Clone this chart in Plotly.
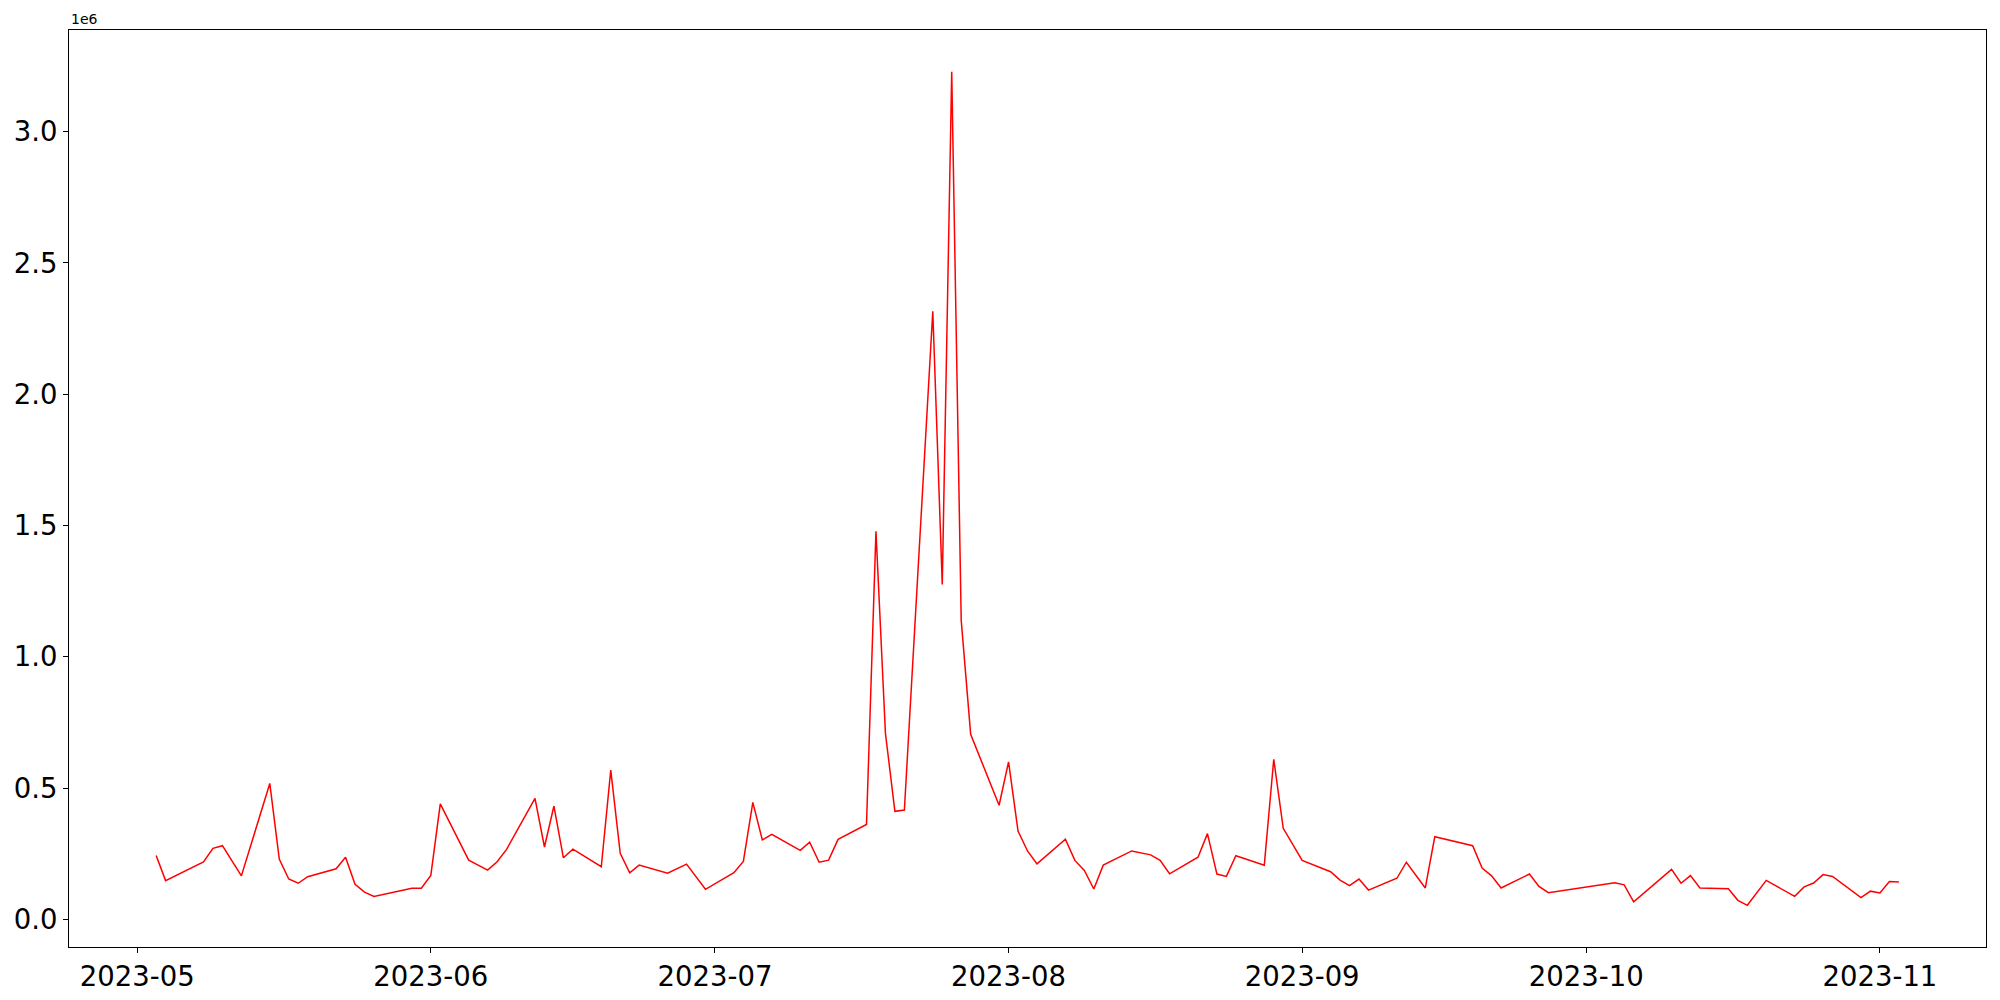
import plotly.graph_objects as go
import pandas as pd

dates = [
    "2023-05-03", "2023-05-04", "2023-05-08", "2023-05-09", "2023-05-10", "2023-05-11", "2023-05-12",
    "2023-05-15", "2023-05-16", "2023-05-17", "2023-05-18", "2023-05-19", "2023-05-22", "2023-05-23",
    "2023-05-24", "2023-05-25", "2023-05-26", "2023-05-30", "2023-05-31", "2023-06-01", "2023-06-02",
    "2023-06-05", "2023-06-07", "2023-06-08", "2023-06-09", "2023-06-12", "2023-06-13", "2023-06-14",
    "2023-06-15", "2023-06-16", "2023-06-19", "2023-06-20", "2023-06-21", "2023-06-22", "2023-06-23",
    "2023-06-26", "2023-06-28", "2023-06-30", "2023-07-03", "2023-07-04", "2023-07-05", "2023-07-06",
    "2023-07-07", "2023-07-10", "2023-07-11", "2023-07-12", "2023-07-13", "2023-07-14", "2023-07-17",
    "2023-07-18", "2023-07-19", "2023-07-20", "2023-07-21", "2023-07-24", "2023-07-25", "2023-07-26",
    "2023-07-27", "2023-07-28", "2023-07-31", "2023-08-01", "2023-08-02", "2023-08-03", "2023-08-04",
    "2023-08-07", "2023-08-08", "2023-08-09", "2023-08-10", "2023-08-11", "2023-08-14", "2023-08-16",
    "2023-08-17", "2023-08-18", "2023-08-21", "2023-08-22", "2023-08-23", "2023-08-24", "2023-08-25",
    "2023-08-28", "2023-08-29", "2023-08-30", "2023-09-01", "2023-09-04", "2023-09-05", "2023-09-06",
    "2023-09-07", "2023-09-08", "2023-09-11", "2023-09-12", "2023-09-14", "2023-09-15", "2023-09-19",
    "2023-09-20", "2023-09-21", "2023-09-22", "2023-09-25", "2023-09-26", "2023-09-27", "2023-10-04",
    "2023-10-05", "2023-10-06", "2023-10-10", "2023-10-11", "2023-10-12", "2023-10-13", "2023-10-16",
    "2023-10-17", "2023-10-18", "2023-10-20", "2023-10-23", "2023-10-24", "2023-10-25", "2023-10-26",
    "2023-10-27", "2023-10-30", "2023-10-31", "2023-11-01", "2023-11-02", "2023-11-03",
]

values = [
    244000, 148000, 219000, 271000, 281000, 226000, 166000,
    518000, 230000, 154000, 138000, 163000, 193000, 237000,
    134000, 104000, 88000, 119000, 119000, 168000, 440000,
    226000, 188000, 220000, 267000, 461000, 276000, 432000,
    235000, 268000, 201000, 569000, 252000, 178000, 207000,
    176000, 211000, 115000, 178000, 221000, 446000, 303000,
    324000, 263000, 294000, 218000, 226000, 305000, 362000,
    1478000, 709000, 412000, 417000, 2316000, 1276000, 3228000,
    1140000, 705000, 435000, 600000, 337000, 261000, 212000,
    306000, 225000, 187000, 116000, 207000, 261000, 246000,
    225000, 174000, 237000, 327000, 173000, 164000, 243000,
    207000, 610000, 347000, 225000, 182000, 150000, 129000,
    154000, 112000, 157000, 218000, 120000, 315000, 281000,
    196000, 166000, 120000, 173000, 126000, 102000, 140000,
    132000, 67000, 191000, 138000, 167000, 120000, 117000,
    73000, 54000, 149000, 88000, 124000, 139000, 171000,
    164000, 83000, 108000, 101000, 145000, 143000,
]

x_tick_vals = ["2023-05-01", "2023-06-01", "2023-07-01", "2023-08-01",
               "2023-09-01", "2023-10-01", "2023-11-01"]
x_tick_text = ["2023-05", "2023-06", "2023-07", "2023-08", "2023-09", "2023-10", "2023-11"]
y_tick_vals = [0, 500000, 1000000, 1500000, 2000000, 2500000, 3000000]
y_tick_text = ["0.0", "0.5", "1.0", "1.5", "2.0", "2.5", "3.0"]

FONT = "DejaVu Sans"

dts = pd.to_datetime(dates)
span = dts.max() - dts.min()
x_lo = dts.min() - span * 0.05
x_hi = dts.max() + span * 0.05
v_span = max(values) - min(values)
y_lo = min(values) - v_span * 0.05
y_hi = max(values) + v_span * 0.05

fig = go.Figure()
fig.add_trace(go.Scatter(
    x=dates, y=values, mode="lines",
    line=dict(color="#ff0000", width=1.5),
    showlegend=False, hoverinfo="x+y",
))

axis_common = dict(
    showgrid=False, zeroline=False, automargin=False,
    showline=True, linecolor="black", linewidth=1.1, mirror=True,
    ticks="outside", ticklen=5, tickwidth=1.1, tickcolor="black",
    tickfont=dict(family=FONT, size=27.5, color="black"),
)

# the page body adds an 8px offset, so the figure is sized to fit the window
fig.update_layout(
    width=1984, height=984,
    paper_bgcolor="white", plot_bgcolor="white",
    margin=dict(l=61, r=6, t=22, b=45, pad=0),
    font=dict(family=FONT, color="black"),
    xaxis=dict(type="date", range=[x_lo, x_hi], tickvals=x_tick_vals,
               ticktext=x_tick_text, **axis_common),
    yaxis=dict(range=[y_lo, y_hi], tickvals=y_tick_vals, ticktext=y_tick_text,
               **axis_common),
    annotations=[dict(
        text="1e6", xref="paper", yref="paper", x=0, y=1,
        xanchor="left", yanchor="bottom", yshift=1, showarrow=False,
        font=dict(family=FONT, size=14, color="black"),
    )],
)

fig.write_html("out.html")
